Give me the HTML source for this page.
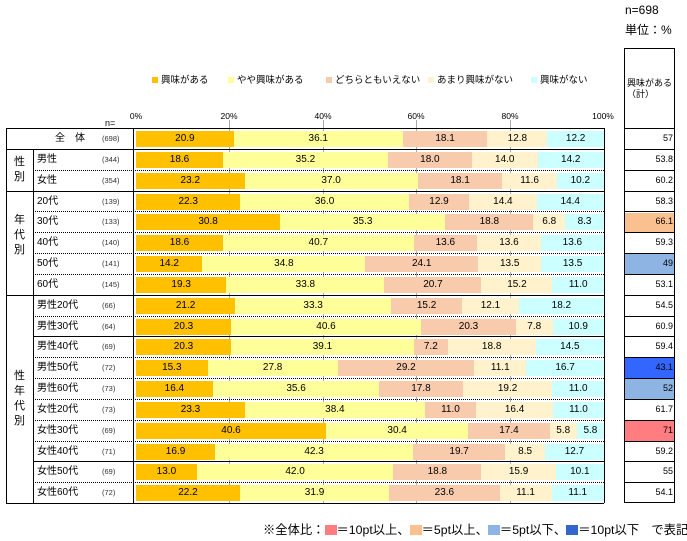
<!DOCTYPE html><html><head><meta charset="utf-8"><style>
body{margin:0;width:687px;height:541px;background:#fff;font-family:"Liberation Sans","Noto Sans CJK JP",sans-serif;position:relative;overflow:hidden;color:#000}
.a{position:absolute}
.row{position:absolute;left:136px;width:468px;height:16px;display:flex}
.row div{height:16px;line-height:16px;font-size:10px;text-align:center;white-space:nowrap;overflow:hidden}
.c1{background:#ffc000}.c2{background:#ffff99}.c3{background:#f8cbad}.c4{background:#fff2cc}.c5{background:#ccffff}
.hl{position:absolute;height:0;border-top:1px solid #000}
.dl{position:absolute;height:0;border-top:1px dotted #000}
.vl{position:absolute;width:0;border-left:1px solid #000}
.g{position:absolute;width:0;border-left:1px solid #aaa;top:120px;height:383px}
.nm{position:absolute;left:37px;font-size:10px;height:21px;line-height:21px}
.n{position:absolute;left:102px;font-size:7.5px;height:21px;line-height:21px;color:#333}
.rv{position:absolute;left:625px;width:48px;text-align:right;font-size:9px;height:21px;line-height:21px}
.lg{position:absolute;top:72px;font-size:9.5px}
.lg i{display:inline-block;width:6px;height:6px;margin-right:3px}
.ax{position:absolute;top:111px;font-size:8.5px;width:40px;text-align:center}
.vt{position:absolute;left:6px;width:27px;text-align:center;font-size:11px;line-height:15px}
.bx{display:inline-block;width:12px;height:10px;vertical-align:-1px}
</style></head><body>
<div class="a" style="left:625px;top:3px;font-size:12px">n=698</div>
<div class="a" style="left:625px;top:21px;font-size:12px">単位：%</div>

<div class="lg" style="left:152px"><i style="background:#ffc000"></i>興味がある</div>
<div class="lg" style="left:228px"><i style="background:#ffff99"></i>やや興味がある</div>
<div class="lg" style="left:326px"><i style="background:#f8cbad"></i>どちらともいえない</div>
<div class="lg" style="left:428px"><i style="background:#fff2cc"></i>あまり興味がない</div>
<div class="lg" style="left:531px"><i style="background:#ccffff"></i>興味がない</div>

<div class="ax" style="left:116px">0%</div>
<div class="ax" style="left:209px">20%</div>
<div class="ax" style="left:303px">40%</div>
<div class="ax" style="left:396px">60%</div>
<div class="ax" style="left:490px">80%</div>
<div class="ax" style="left:583px">100%</div>
<div class="a" style="left:105px;top:118px;font-size:9px">n=</div>

<div class="g" style="left:229px"></div><div class="g" style="left:323px"></div><div class="g" style="left:416px"></div><div class="g" style="left:510px"></div>

<div class="row" style="top:131px"><div class="c1" style="width:20.9%">20.9</div><div class="c2" style="width:36.1%">36.1</div><div class="c3" style="width:18.1%">18.1</div><div class="c4" style="width:12.8%">12.8</div><div class="c5" style="width:12.1%">12.2</div></div>
<div class="row" style="top:152px"><div class="c1" style="width:18.6%">18.6</div><div class="c2" style="width:35.2%">35.2</div><div class="c3" style="width:18.0%">18.0</div><div class="c4" style="width:14.0%">14.0</div><div class="c5" style="width:14.2%">14.2</div></div>
<div class="row" style="top:173px"><div class="c1" style="width:23.2%">23.2</div><div class="c2" style="width:37.0%">37.0</div><div class="c3" style="width:18.1%">18.1</div><div class="c4" style="width:11.6%">11.6</div><div class="c5" style="width:10.1%">10.2</div></div>
<div class="row" style="top:194px"><div class="c1" style="width:22.3%">22.3</div><div class="c2" style="width:36.0%">36.0</div><div class="c3" style="width:12.9%">12.9</div><div class="c4" style="width:14.4%">14.4</div><div class="c5" style="width:14.4%">14.4</div></div>
<div class="row" style="top:214px"><div class="c1" style="width:30.8%">30.8</div><div class="c2" style="width:35.3%">35.3</div><div class="c3" style="width:18.8%">18.8</div><div class="c4" style="width:6.8%">6.8</div><div class="c5" style="width:8.3%">8.3</div></div>
<div class="row" style="top:235px"><div class="c1" style="width:18.6%">18.6</div><div class="c2" style="width:40.7%">40.7</div><div class="c3" style="width:13.6%">13.6</div><div class="c4" style="width:13.6%">13.6</div><div class="c5" style="width:13.5%">13.6</div></div>
<div class="row" style="top:256px"><div class="c1" style="width:14.2%">14.2</div><div class="c2" style="width:34.8%">34.8</div><div class="c3" style="width:24.1%">24.1</div><div class="c4" style="width:13.5%">13.5</div><div class="c5" style="width:13.4%">13.5</div></div>
<div class="row" style="top:277px"><div class="c1" style="width:19.3%">19.3</div><div class="c2" style="width:33.8%">33.8</div><div class="c3" style="width:20.7%">20.7</div><div class="c4" style="width:15.2%">15.2</div><div class="c5" style="width:11.0%">11.0</div></div>
<div class="row" style="top:298px"><div class="c1" style="width:21.2%">21.2</div><div class="c2" style="width:33.3%">33.3</div><div class="c3" style="width:15.2%">15.2</div><div class="c4" style="width:12.1%">12.1</div><div class="c5" style="width:18.2%">18.2</div></div>
<div class="row" style="top:319px"><div class="c1" style="width:20.3%">20.3</div><div class="c2" style="width:40.6%">40.6</div><div class="c3" style="width:20.3%">20.3</div><div class="c4" style="width:7.8%">7.8</div><div class="c5" style="width:11.0%">10.9</div></div>
<div class="row" style="top:339px"><div class="c1" style="width:20.3%">20.3</div><div class="c2" style="width:39.1%">39.1</div><div class="c3" style="width:7.2%">7.2</div><div class="c4" style="width:18.8%">18.8</div><div class="c5" style="width:14.6%">14.5</div></div>
<div class="row" style="top:360px"><div class="c1" style="width:15.3%">15.3</div><div class="c2" style="width:27.8%">27.8</div><div class="c3" style="width:29.2%">29.2</div><div class="c4" style="width:11.1%">11.1</div><div class="c5" style="width:16.6%">16.7</div></div>
<div class="row" style="top:381px"><div class="c1" style="width:16.4%">16.4</div><div class="c2" style="width:35.6%">35.6</div><div class="c3" style="width:17.8%">17.8</div><div class="c4" style="width:19.2%">19.2</div><div class="c5" style="width:11.0%">11.0</div></div>
<div class="row" style="top:402px"><div class="c1" style="width:23.3%">23.3</div><div class="c2" style="width:38.4%">38.4</div><div class="c3" style="width:11.0%">11.0</div><div class="c4" style="width:16.4%">16.4</div><div class="c5" style="width:10.9%">11.0</div></div>
<div class="row" style="top:423px"><div class="c1" style="width:40.6%">40.6</div><div class="c2" style="width:30.4%">30.4</div><div class="c3" style="width:17.4%">17.4</div><div class="c4" style="width:5.8%">5.8</div><div class="c5" style="width:5.8%">5.8</div></div>
<div class="row" style="top:444px"><div class="c1" style="width:16.9%">16.9</div><div class="c2" style="width:42.3%">42.3</div><div class="c3" style="width:19.7%">19.7</div><div class="c4" style="width:8.5%">8.5</div><div class="c5" style="width:12.6%">12.7</div></div>
<div class="row" style="top:464px"><div class="c1" style="width:13.0%">13.0</div><div class="c2" style="width:42.0%">42.0</div><div class="c3" style="width:18.8%">18.8</div><div class="c4" style="width:15.9%">15.9</div><div class="c5" style="width:10.3%">10.1</div></div>
<div class="row" style="top:485px"><div class="c1" style="width:22.2%">22.2</div><div class="c2" style="width:31.9%">31.9</div><div class="c3" style="width:23.6%">23.6</div><div class="c4" style="width:11.1%">11.1</div><div class="c5" style="width:11.2%">11.1</div></div>

<div class="hl" style="left:6px;width:598px;top:128px"></div>
<div class="hl" style="left:6px;width:598px;top:149px"></div>
<div class="dl" style="left:33px;width:571px;top:170px"></div>
<div class="hl" style="left:6px;width:598px;top:191px"></div>
<div class="dl" style="left:33px;width:571px;top:211px"></div>
<div class="dl" style="left:33px;width:571px;top:232px"></div>
<div class="dl" style="left:33px;width:571px;top:253px"></div>
<div class="dl" style="left:33px;width:571px;top:274px"></div>
<div class="hl" style="left:6px;width:598px;top:295px"></div>
<div class="dl" style="left:33px;width:571px;top:316px"></div>
<div class="hl" style="left:33px;width:571px;top:336px"></div>
<div class="dl" style="left:33px;width:571px;top:357px"></div>
<div class="dl" style="left:33px;width:571px;top:378px"></div>
<div class="dl" style="left:33px;width:571px;top:399px"></div>
<div class="dl" style="left:33px;width:571px;top:420px"></div>
<div class="dl" style="left:33px;width:571px;top:441px"></div>
<div class="hl" style="left:33px;width:571px;top:461px"></div>
<div class="dl" style="left:33px;width:571px;top:482px"></div>
<div class="hl" style="left:6px;width:598px;top:503px"></div>
<div class="vl" style="left:6px;top:128px;height:375px"></div>
<div class="vl" style="left:33px;top:149px;height:354px"></div>
<div class="vl" style="left:133px;top:128px;height:375px"></div>
<div class="vl" style="left:604px;top:128px;height:375px"></div>

<div class="a" style="left:40px;top:128px;width:60px;text-align:center;font-size:10px;line-height:21px">全　体</div><div class="n" style="top:128px">(698)</div>
<div class="nm" style="top:149px">男性</div><div class="n" style="top:149px">(344)</div>
<div class="nm" style="top:170px">女性</div><div class="n" style="top:170px">(354)</div>
<div class="nm" style="top:191px">20代</div><div class="n" style="top:191px">(139)</div>
<div class="nm" style="top:211px">30代</div><div class="n" style="top:211px">(133)</div>
<div class="nm" style="top:232px">40代</div><div class="n" style="top:232px">(140)</div>
<div class="nm" style="top:253px">50代</div><div class="n" style="top:253px">(141)</div>
<div class="nm" style="top:274px">60代</div><div class="n" style="top:274px">(145)</div>
<div class="nm" style="top:295px">男性20代</div><div class="n" style="top:295px">(66)</div>
<div class="nm" style="top:316px">男性30代</div><div class="n" style="top:316px">(64)</div>
<div class="nm" style="top:336px">男性40代</div><div class="n" style="top:336px">(69)</div>
<div class="nm" style="top:357px">男性50代</div><div class="n" style="top:357px">(72)</div>
<div class="nm" style="top:378px">男性60代</div><div class="n" style="top:378px">(73)</div>
<div class="nm" style="top:399px">女性20代</div><div class="n" style="top:399px">(73)</div>
<div class="nm" style="top:420px">女性30代</div><div class="n" style="top:420px">(69)</div>
<div class="nm" style="top:441px">女性40代</div><div class="n" style="top:441px">(71)</div>
<div class="nm" style="top:461px">女性50代</div><div class="n" style="top:461px">(69)</div>
<div class="nm" style="top:482px">女性60代</div><div class="n" style="top:482px">(72)</div>
<div class="vt" style="top:155px">性<br>別</div>
<div class="vt" style="top:213px">年<br>代<br>別</div>
<div class="vt" style="top:369px">性<br>年<br>代<br>別</div>

<div class="a" style="left:624px;top:48px;width:51px;height:455px;border:1px solid #000;box-sizing:border-box"></div>
<div class="a" style="left:627px;top:78px;font-size:9px;line-height:11px">興味がある<br>（計）</div>
<div class="a" style="left:625px;top:213px;width:49px;height:20px;background:#fac090"></div>
<div class="a" style="left:625px;top:254px;width:49px;height:20px;background:#8db4e2"></div>
<div class="a" style="left:625px;top:358px;width:49px;height:20px;background:#3366ff"></div>
<div class="a" style="left:625px;top:379px;width:49px;height:20px;background:#8db4e2"></div>
<div class="a" style="left:625px;top:421px;width:49px;height:20px;background:#ff7c80"></div>
<div class="hl" style="left:624px;width:51px;top:128px"></div>
<div class="hl" style="left:624px;width:51px;top:149px"></div>
<div class="hl" style="left:624px;width:51px;top:170px"></div>
<div class="hl" style="left:624px;width:51px;top:191px"></div>
<div class="hl" style="left:624px;width:51px;top:211px"></div>
<div class="hl" style="left:624px;width:51px;top:232px"></div>
<div class="hl" style="left:624px;width:51px;top:253px"></div>
<div class="hl" style="left:624px;width:51px;top:274px"></div>
<div class="hl" style="left:624px;width:51px;top:295px"></div>
<div class="hl" style="left:624px;width:51px;top:316px"></div>
<div class="hl" style="left:624px;width:51px;top:336px"></div>
<div class="hl" style="left:624px;width:51px;top:357px"></div>
<div class="hl" style="left:624px;width:51px;top:378px"></div>
<div class="hl" style="left:624px;width:51px;top:399px"></div>
<div class="hl" style="left:624px;width:51px;top:420px"></div>
<div class="hl" style="left:624px;width:51px;top:441px"></div>
<div class="hl" style="left:624px;width:51px;top:461px"></div>
<div class="hl" style="left:624px;width:51px;top:482px"></div>
<div class="rv" style="top:128px">57</div>
<div class="rv" style="top:149px">53.8</div>
<div class="rv" style="top:170px">60.2</div>
<div class="rv" style="top:191px">58.3</div>
<div class="rv" style="top:211px">66.1</div>
<div class="rv" style="top:232px">59.3</div>
<div class="rv" style="top:253px">49</div>
<div class="rv" style="top:274px">53.1</div>
<div class="rv" style="top:295px">54.5</div>
<div class="rv" style="top:316px">60.9</div>
<div class="rv" style="top:336px">59.4</div>
<div class="rv" style="top:357px">43.1</div>
<div class="rv" style="top:378px">52</div>
<div class="rv" style="top:399px">61.7</div>
<div class="rv" style="top:420px">71</div>
<div class="rv" style="top:441px">59.2</div>
<div class="rv" style="top:461px">55</div>
<div class="rv" style="top:482px">54.1</div>

<div class="a" style="left:263px;top:520px;font-size:12.3px;white-space:nowrap">※全体比：<span class="bx" style="background:#ff7c80"></span>＝10pt以上、<span class="bx" style="background:#fac090"></span>＝5pt以上、<span class="bx" style="background:#8db4e2"></span>＝5pt以下、<span class="bx" style="background:#3366cc"></span>＝10pt以下　で表記</div>
</body></html>
